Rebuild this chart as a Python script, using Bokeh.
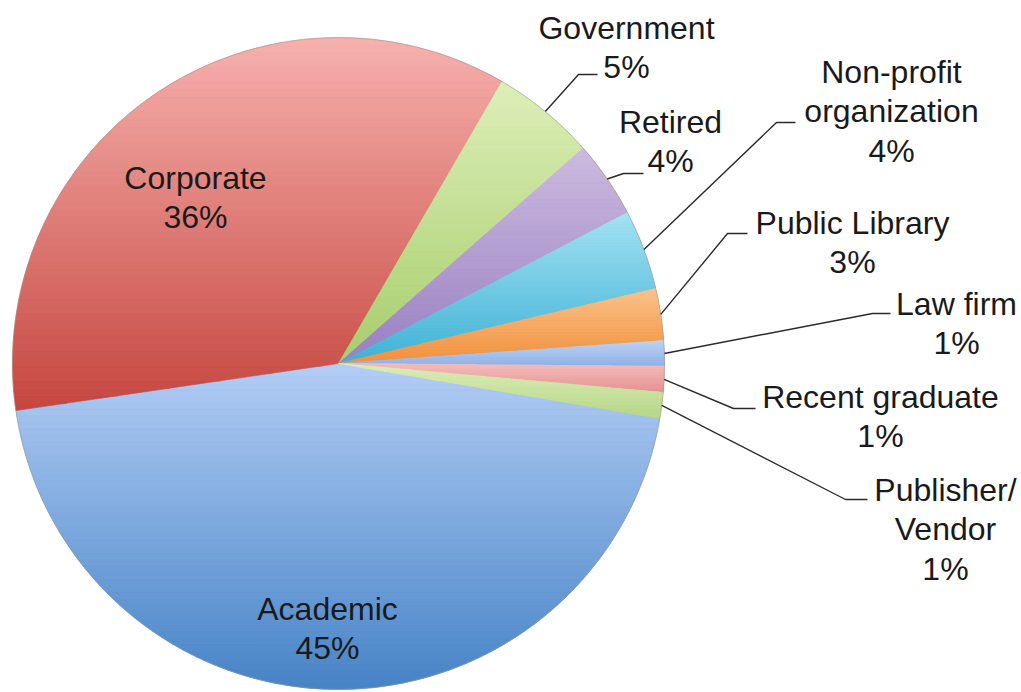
import numpy as np
from bokeh.plotting import figure
from bokeh.models import Range1d, ColumnDataSource
from bokeh.embed import file_html
from bokeh.resources import INLINE
from bokeh.core.properties import value

# ---------------- data ----------------
categories = ["Academic", "Corporate", "Government", "Retired",
              "Non-profit organization", "Public Library", "Law firm",
              "Recent graduate", "Publisher/Vendor"]
shares = [45.0, 35.67, 5.15, 3.82, 3.97, 2.58, 1.25, 1.28, 1.28]
label_names = ["Academic", "Corporate", "Government", "Retired",
               "Non-profit\norganization", "Public Library", "Law firm",
               "Recent graduate", "Publisher/\nVendor"]

# ---------------- styles ----------------
top_colors = ["#b3cdf5", "#f7b1ae", "#ddefb9", "#cdbbe0", "#a6e2f3",
              "#fbc28c", "#bdd3f4", "#f5bdbc", "#dcedb9"]
bottom_colors = ["#4683c6", "#c5463f", "#a7cd6c", "#987fc1", "#3db2d5",
                 "#f1913b", "#8eb1e7", "#e49290", "#b6d786"]

# ---------------- layout (image pixel coords) ----------------
W, H = 1021, 692
IMG_H = 692
def Y(img_y):
    return IMG_H - img_y

CX, CY, R = 338, Y(363), 326
START = 99.7  # degrees clockwise from 12 o'clock where first slice starts

label_pos = [(327, 628), (195, 197), (626, 47), (670, 141), (891, 111),
             (852, 242), (956, 323), (880, 416), (945, 529)]
# leader lines: (elbow, end) in image coords, None = label inside slice
leaders = [None, None,
           ((578, 74), (597, 74)),
           ((623, 173), (643, 173)),
           ((776, 122), (795, 122)),
           ((727, 233), (747, 233)),
           ((872, 313), (890, 313)),
           ((733, 408), (755, 408)),
           ((845, 499), (867, 499))]

# ---------------- helpers ----------------
def hex2rgb(h):
    h = h.lstrip("#")
    return np.array([int(h[i:i + 2], 16) for i in (0, 2, 4)], dtype=float)

def rgb2hex(c):
    c = np.clip(np.round(c), 0, 255).astype(int)
    return "#%02x%02x%02x" % tuple(c)

def clip_half(pts, keep, inter):
    out = []
    n = len(pts)
    for i in range(n):
        a = pts[i]
        b = pts[(i + 1) % n]
        ka, kb = keep(a), keep(b)
        if ka:
            out.append(a)
        if ka != kb:
            out.append(inter(a, b))
    return out

def inter_y(yv):
    def f(a, b):
        t = (yv - a[1]) / (b[1] - a[1])
        return (a[0] + t * (b[0] - a[0]), yv)
    return f

def clip_band(pts, y0, y1):
    p1 = clip_half(pts, lambda q: q[1] >= y0, inter_y(y0))
    if not p1:
        return []
    return clip_half(p1, lambda q: q[1] <= y1, inter_y(y1))

# ---------------- figure ----------------
p = figure(width=W, height=H, x_range=Range1d(0, W), y_range=Range1d(IMG_H - H, IMG_H),
           output_backend="svg", toolbar_location=None, min_border=0)
p.axis.visible = False
p.grid.visible = False
p.outline_line_color = None
p.background_fill_color = "white"
p.border_fill_color = "white"

total = sum(shares)
theta = np.concatenate([[0], np.cumsum(shares)]) / total * 360.0 + START
t1 = theta[:-1]
t2 = theta[1:]
mid = (t1 + t2) / 2

mid_colors = [rgb2hex((hex2rgb(a) + hex2rgb(b)) / 2) for a, b in zip(top_colors, bottom_colors)]

# base wedges
src = ColumnDataSource(dict(start=90 - t1, end=90 - t2, color=mid_colors, cat=categories))
p.wedge(x=CX, y=CY, radius=R, start_angle="start", end_angle="end",
        start_angle_units="deg", end_angle_units="deg", direction="clock",
        fill_color="color", line_color=None, source=src)

# vertical gradient overlay per slice
NB = 50
gx, gy, gc = [], [], []
for i in range(len(shares)):
    n = max(6, int((t2[i] - t1[i]) / 0.4))
    th = np.radians(np.linspace(t1[i], t2[i], n))
    pts = [(CX, CY)] + [(CX + R * np.sin(a), CY + R * np.cos(a)) for a in th]
    ys = [q[1] for q in pts]
    ymin, ymax = min(ys), max(ys)
    edges = np.linspace(ymin, ymax, NB + 1)
    ct, cb = hex2rgb(top_colors[i]), hex2rgb(bottom_colors[i])
    for k in range(NB):
        poly = clip_band(pts, edges[k], edges[k + 1])
        if len(poly) < 3:
            continue
        f = (ymax - (edges[k] + edges[k + 1]) / 2) / (ymax - ymin)
        gx.append([q[0] for q in poly])
        gy.append([q[1] for q in poly])
        gc.append(rgb2hex(ct + (cb - ct) * f))
p.patches(gx, gy, fill_color=gc, line_color=gc, line_width=0.6)

# faint outer edge
p.circle(x=CX, y=CY, radius=R, fill_color=None, line_color="#9a9a9a", line_alpha=0.55, line_width=1)

# leader lines
lx, ly = [], []
for i, ld in enumerate(leaders):
    if ld is None:
        continue
    a = np.radians(mid[i])
    sx, sy = CX + R * np.sin(a), CY + R * np.cos(a)
    (ex, ey), (fx, fy) = ld
    lx.append([sx, ex, fx])
    ly.append([sy, Y(ey), Y(fy)])
p.multi_line(lx, ly, line_color="#2a2a2a", line_width=1.4)

# labels
texts = [f"{n}\n{round(s * 100 / total)}%" for n, s in zip(label_names, shares)]
p.text(x=[q[0] for q in label_pos], y=[Y(q[1]) for q in label_pos], text=texts,
       text_font=value("Liberation Sans"), text_font_size="32px",
       text_align="center", text_baseline="middle", text_line_height=1.09,
       text_color="#1a1a1a")

open("out.html", "w").write(file_html(p, INLINE))
